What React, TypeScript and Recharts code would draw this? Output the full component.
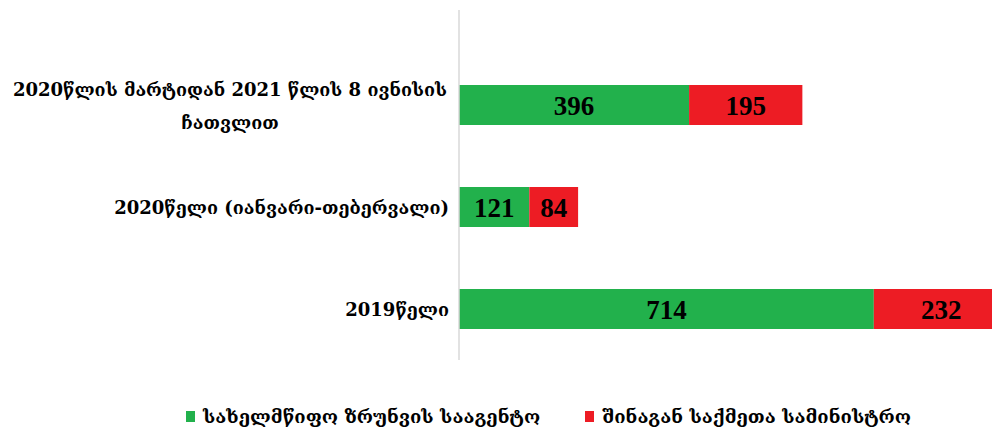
import { BarChart, Bar, XAxis, YAxis, LabelList, Legend } from 'recharts';

const categories = [
  '2020წლის მარტიდან 2021 წლის 8 ივნისის ჩათვლით',
  '2020წელი (იანვარი-თებერვალი)',
  '2019წელი',
];
const agencyValues = [396, 121, 714];
const ministryValues = [195, 84, 232];
const seriesNames = ['სახელმწიფო ზრუნვის სააგენტო', 'შინაგან საქმეთა სამინისტრო'];
const seriesColors = ['#22B14C', '#ED1C24'];

const data = categories.map((name, i) => ({
  name,
  agency: agencyValues[i],
  ministry: ministryValues[i],
}));

const GEO_FONT = '"DejaVu Serif", "DejaVu Sans", serif';

// long labels: move the last word to a second line
const wrap = (s: string) => {
  if (s.length <= 40) return [s];
  const k = s.lastIndexOf(' ');
  return [s.slice(0, k), s.slice(k + 1)];
};

const CategoryTick = (props: any) => {
  const { y, payload } = props;
  const lines = wrap(payload.value);
  if (lines.length === 1) {
    return (
      <text x={441} y={y} textAnchor="end" dominantBaseline="central" fontSize={18} fontWeight="bold" fontFamily={GEO_FONT} fill="#000">
        {lines[0]}
      </text>
    );
  }
  return (
    <g>
      {lines.map((l, i) => (
        <text key={i} x={222} y={y - 16 + i * 33} textAnchor="middle" dominantBaseline="central" fontSize={18} fontWeight="bold" fontFamily={GEO_FONT} fill="#000">
          {l}
        </text>
      ))}
    </g>
  );
};

const LegendContent = () => (
  <div style={{ display: 'flex', alignItems: 'center', fontFamily: GEO_FONT, fontSize: 18.5, fontWeight: 'bold', color: '#000' }}>
    {seriesNames.map((n, i) => (
      <div key={n} style={{ display: 'flex', alignItems: 'center', marginRight: 45 }}>
        <span style={{ display: 'inline-block', width: 9, height: 11, background: seriesColors[i], marginRight: 8 }} />
        <span>{n}</span>
      </div>
    ))}
  </div>
);

export default function App() {
  return (
    <div style={{ width: 992, height: 423, overflow: 'hidden' }}>
      <BarChart
        width={1040}
        height={423}
        data={data}
        layout="vertical"
        margin={{ top: 2, right: 8, bottom: 71, left: 0 }}
      >
        <XAxis type="number" domain={[0, 1000]} hide />
        <YAxis
          type="category"
          dataKey="name"
          width={451}
          padding={{ top: 44, bottom: 0 }}
          axisLine={{ stroke: '#D9D9D9', strokeWidth: 1.5 }}
          tickLine={false}
          tick={<CategoryTick />}
          interval={0}
        />
        <Legend
          layout="horizontal"
          verticalAlign="middle"
          align="center"
          wrapperStyle={{ top: 398, left: 178, width: 800 }}
          content={<LegendContent />}
        />
        <Bar dataKey="agency" name={seriesNames[0]} stackId="a" fill={seriesColors[0]} barSize={40} isAnimationActive={false}>
          <LabelList dataKey="agency" position="center" fill="#000" fontSize={27} fontWeight="bold" fontFamily='"Liberation Serif", serif' />
        </Bar>
        <Bar dataKey="ministry" name={seriesNames[1]} stackId="a" fill={seriesColors[1]} barSize={40} isAnimationActive={false}>
          <LabelList dataKey="ministry" position="center" fill="#000" fontSize={27} fontWeight="bold" fontFamily='"Liberation Serif", serif' />
        </Bar>
      </BarChart>
    </div>
  );
}
